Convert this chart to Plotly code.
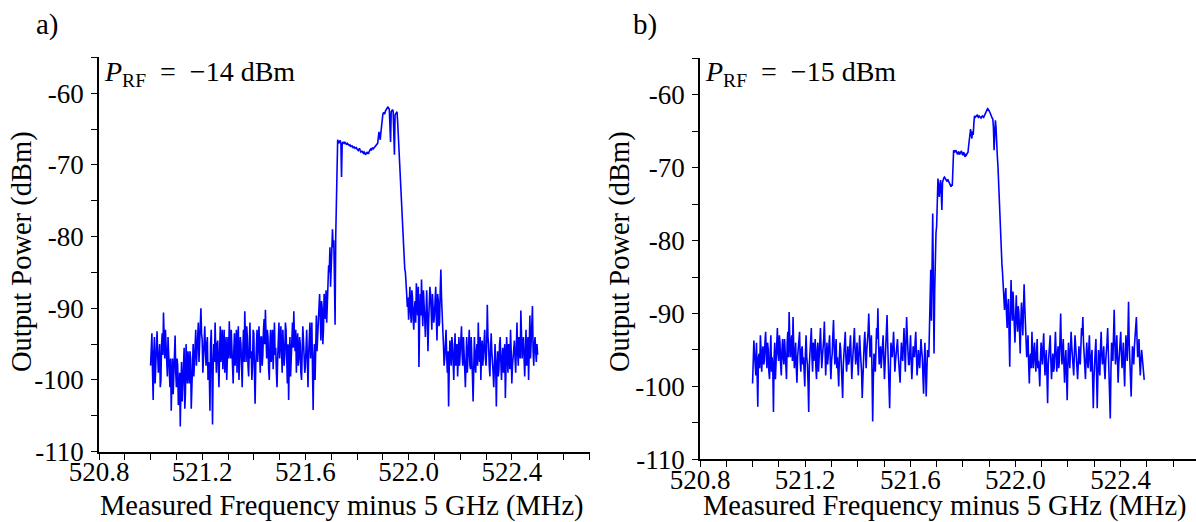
import numpy as np
import plotly.graph_objects as go

# ---------------- data ----------------
# Panel a: P_RF = -14 dBm ; readings every 0.005 MHz from 521.000 to 522.500
power_a = [
    -98, -93.5, -102.8, -94, -97, -93.2, -99, -95, -100, -93.5,
    -90.6, -97, -95, -99.5, -96, -101, -104.3, -97, -99, -93.8,
    -101, -98, -102.5, -106.5, -97.5, -100, -95.5, -102, -98, -96,
    -100.5, -97, -102, -95, -97.5, -93, -96, -92, -95.5, -90,
    -94.5, -96, -92.5, -98, -94, -97.5, -104.3, -93, -106.2, -95,
    -92, -99, -94.5, -101, -92.5, -96, -98.5, -93, -97, -100,
    -94, -91.8, -97, -95, -100.5, -93.5, -96.5, -99, -92.5, -97,
    -95, -101, -93, -90.4, -97.5, -94, -99.5, -92, -96, -98,
    -93.5, -103.3, -95, -97.5, -92.5, -99, -94, -96.5, -91.5, -90.2,
    -97, -94, -100, -93, -96, -98.5, -92, -95.5, -101, -94,
    -97, -92.5, -99, -95, -96.5, -93, -100.5, -102.8, -94, -97,
    -92, -90.4, -96, -99, -93.5, -97, -95, -100, -92.5, -96,
    -98, -93, -101, -94.5, -97, -92, -104.2, -95, -93, -96,
    -92, -88, -94.5, -90, -93, -89, -87.5, -90, -84, -81.5,
    -83, -79, -80.5, -92.3, -74, -66.5, -67, -66.6, -71.7, -66.8,
    -67.0, -66.9, -67.2, -67.1, -67.3, -67.4, -67.3, -67.6, -67.5, -67.7,
    -67.8, -68.0, -67.7, -68.2, -68.1, -68.4, -68.3, -68.5, -68.2, -68.4,
    -68.0, -67.9, -67.6, -67.7, -67.4, -67.2, -67.0, -65.4, -66.5, -64.5,
    -63.0, -62.8, -62.5, -62.2, -61.9, -62.2, -66.8, -62.4, -62.5, -68.6,
    -62.8, -62.6, -66, -69.8, -73, -78.1, -81, -84.5, -86, -89.8,
    -91.6, -87, -92, -88.5, -93, -89, -86.5, -91, -98.2, -88,
    -86, -92.5, -89, -94, -87.5, -96, -90, -88, -93, -89.5,
    -91, -87, -94.5, -89, -92, -84.6, -90, -95,
    -97, -93, -99, -103.7, -94.5, -98, -95, -100, -93.5, -97,
    -99.5, -94, -96, -92.5, -98, -95.5, -101, -94, -97, -93,
    -98.5, -96, -103, -94, -99, -95, -92, -97.5, -100, -94.5,
    -96.5, -93, -98, -89.5, -95, -99.5, -93.5, -97, -101, -95,
    -103.7, -96, -98.5, -94, -100, -95.5, -97, -102.5, -94, -99,
    -96, -93, -100.5, -97, -94.5, -99, -92, -98, -95.5, -90.3,
    -97, -94, -99.5, -93, -96.5, -100, -91, -95, -89.7, -98,
    -94, -97.5, -96.5,
]
# Panel a readings half-way between the points above (521.0025, 521.0075, ...)
power_a_mid = [
    -95, -99, -96, -100.5, -95, -96.5, -97, -101, -95, -96.5,
    -94, -93, -97.5, -94, -99.5, -97, -100, -102, -96, -99,
    -97, -103.5, -99, -101, -103, -97, -104, -95, -100.5, -99,
    -96, -104, -98, -99.5, -95, -98, -94, -97.5, -93, -93.5,
    -99, -93.5, -96, -95, -100, -99, -95, -98, -98, -97.5,
    -96, -95, -98, -96, -97.5, -93, -95, -99, -94, -96,
    -97, -95.5, -93, -98.5, -96, -98, -93, -95, -100, -94,
    -98.5, -96, -97.5, -94, -92.5, -98, -95.5, -97, -100, -93,
    -99, -98, -93, -95, -96, -94, -98, -93, -95, -94,
    -93, -98.5, -95, -97.5, -93, -95, -96.5, -99, -97, -92,
    -94.5, -96, -93, -98, -92, -97, -95, -97, -99.5, -93.5,
    -95.5, -94, -93, -95, -98, -94, -99, -96, -94.5, -99,
    -94, -97, -96.5, -92, -95, -98.5, -97, -100, -91, -94,
    -90.5, -91, -89, -95, -88, -91.5, -92, -86, -85, -87,
    -80, -81.5, -86, -80, -70, -66.8, -66.7, -67, -67.2, -66.9,
    -66.8, -67.1, -67.0, -67.3, -67.2, -67.5, -67.4, -67.5, -67.7, -67.6,
    -67.9, -67.8, -68.0, -68.1, -68.3, -68.2, -68.6, -68.3, -68.4, -68.1,
    -67.8, -67.7, -67.8, -67.5, -67.3, -67.1, -66.2, -66.0, -65.5, -63.6,
    -62.7, -62.9, -62.3, -62.0, -62.1, -64.5, -62.6, -62.3, -65, -63,
    -62.7, -64, -67.5, -71.5, -75.5, -79.5, -83, -85, -88, -88.5,
    -88, -90.5, -87.5, -91.5, -90, -92, -89, -87, -92, -91,
    -90, -87.5, -91.5, -88, -91, -92, -87, -91.5, -88, -92,
    -88.5, -91.5, -88, -92.5, -87.5, -88.5, -93, -98,
    -95, -96.5, -96, -98, -96.5, -94, -97.5, -96, -98, -95,
    -96, -98, -94, -96.5, -94, -98.5, -97, -99, -95, -98,
    -94, -99.5, -97, -97.5, -96, -98, -96, -94, -96, -98,
    -95, -97, -95.5, -94, -98, -96, -96, -99, -97, -98,
    -98, -99.5, -95, -97.5, -97, -99, -95, -98, -96.5, -95,
    -98.5, -96, -98, -95, -97, -95.5, -96, -94, -97, -95,
    -95, -97, -96, -98, -94, -96, -97, -93, -96, -95,
    -96, -95,
]

# Panel b: P_RF = -15 dBm ; readings every 0.005 MHz from 521.000 to 522.490
power_b = [
    -99.6, -93.7, -97, -94, -102.8, -95.5, -93, -98, -94.5, -96.5,
    -92.5, -97.5, -95, -99, -93, -96, -103.5, -94, -97, -92,
    -96.5, -94, -98.5, -93.5, -97, -95, -99, -92.5, -89.8, -96,
    -93, -90.5, -97.5, -94, -99.5, -95, -92.5, -98, -94.5, -96,
    -100, -93, -97, -103.5, -95, -92, -98, -96.5, -93.5, -99,
    -94, -96.5, -92, -97.5, -95, -91.1, -98.5, -94, -96, -93,
    -99, -95.5, -90.9, -97, -93.5, -96, -100, -94, -97.5, -101.6,
    -95, -92.5, -98, -94.5, -96.5, -93, -99, -95.5, -92, -97,
    -94, -98.5, -93, -96, -101.6, -95, -92.5, -97.5, -94, -90,
    -96, -93, -104.8, -95.5, -98, -92, -89.3, -97, -94.5, -96.5,
    -93, -99, -95, -90.2, -97.5, -103, -94, -96, -92.5, -98,
    -95, -93.5, -97, -99.5, -94, -96.5, -92, -98, -90.5, -95.5,
    -97, -93, -99, -94.5, -96, -92.5, -98.5, -95, -97.5, -93.5,
    -96, -101, -94, -101.4, -95, -96,
    -87.3, -91, -76.3, -95.5, -81.3, -78, -71.5, -74, -71.7, -75.8,
    -71.6, -71.3, -71.5, -71.9, -71.8, -72.2, -72.6, -72.4, -67.6, -67.9,
    -67.7, -68.2, -67.8, -68.0, -67.7, -68.3, -68.0, -68.5, -68.2, -67.9,
    -66.3, -64.7, -66, -65.5, -62.9, -63.0, -62.8, -63.1, -63.0, -63.2,
    -62.9, -63.1, -62.7, -62.3, -61.9, -62.1, -62.5, -63, -63.3, -67.6,
    -63.5, -67.6, -69.9, -75.4, -79, -83.2, -85.9, -89.5,
    -86.5, -92, -88, -97.3, -85.4, -91, -89, -94, -87.5, -92.5,
    -90, -95.5, -88.5, -93, -86, -91.5, -96,
    -93, -99.6, -95.5, -92.5, -97.5, -94, -98, -93.5, -96.5, -100,
    -94, -97, -92.7, -98.5, -95, -102.3, -96, -93, -99, -95.5,
    -97.5, -92.5, -98, -94.5, -96.5, -90, -97, -93.5, -99.5, -95,
    -101.9, -94, -97.5, -92.5, -96, -98.5, -93, -95.5, -99, -94.5,
    -97, -92, -90.5, -96.5, -99, -94, -97.5, -93, -98, -95,
    -103, -96, -93.5, -103, -95, -98.5, -92.5, -97, -94.5, -99,
    -95.5, -92, -98, -104.4, -94, -96.5, -89.5, -97, -93, -99.5,
    -95, -92.5, -97.5, -94, -100, -93, -96.5, -88.4, -98, -101.4,
    -94.5, -97, -92.5, -90.5, -96, -93.5, -98.5, -95, -97, -99.1,
]
# Panel b readings half-way between the points above
power_b_mid = [
    -96, -95.5, -98.5, -97, -96, -97.5, -95, -95.5, -97, -94,
    -95.5, -94, -98, -95.5, -98, -97.5, -96, -99, -94.5, -95.5,
    -93, -97, -95, -96, -93.5, -97.5, -94, -96, -93.5, -94,
    -96.5, -94.5, -96, -97.5, -96, -93, -96.5, -95, -97, -98,
    -95.5, -96, -99.5, -97, -93.5, -96, -94, -95, -97.5, -95,
    -98, -94, -95, -96, -93.5, -95, -96, -97, -94.5, -96.5,
    -96.5, -93, -94.5, -95.5, -97.5, -98, -96, -95, -98.5, -97,
    -94, -96, -96.5, -97, -94.5, -96, -97, -94, -95, -95.5,
    -96.5, -95.5, -95, -98, -98, -94, -95.5, -95, -92.5, -94,
    -94.5, -98, -99, -96.5, -95, -93.5, -94, -95.5, -97.5, -94.5,
    -96, -97, -93, -94, -99.5, -98, -95, -94.5, -95, -96.5,
    -94, -95.5, -98, -96.5, -95.5, -94.5, -95, -94, -93, -97,
    -95, -96.5, -97, -95.5, -94, -95.5, -97, -96.5, -95.5, -95,
    -98.5, -97, -97.5, -98, -95.5, -92,
    -84, -84, -86, -87, -79, -74, -72.5, -72.5, -73.5, -72,
    -71.4, -71.5, -71.7, -71.6, -72.0, -72.3, -72.4, -70, -67.8, -67.6,
    -68.0, -67.9, -68.2, -67.7, -68.1, -67.9, -68.4, -68.1, -68.0, -67.0,
    -65.2, -65.5, -65, -64, -63.1, -62.9, -63.0, -62.9, -63.1, -63.0,
    -63.0, -62.9, -62.5, -62.0, -62.0, -62.3, -62.8, -63.2, -64.5, -64,
    -64.5, -68.5, -72.5, -77, -81, -84.5, -88, -87.5,
    -90, -89, -93, -90, -89, -87, -92, -90.5, -91, -89,
    -92.5, -91, -90.5, -89.5, -89, -93.5, -94.5,
    -97, -96, -97.5, -95.5, -95, -96.5, -95.5, -97.5, -98, -96.5,
    -95.5, -94.5, -96, -96.5, -98.5, -97, -94.5, -96.5, -97, -98,
    -95, -95.5, -96, -97.5, -93.5, -94.5, -95, -97, -96.5, -98.5,
    -97, -96, -95, -94.5, -97.5, -95.5, -94.5, -97.5, -96, -96.5,
    -94.5, -93, -94, -98, -96, -96.5, -95, -96.5, -96, -99,
    -99, -95, -98, -98.5, -97, -95, -95.5, -96, -97.5, -96.5,
    -94, -95.5, -100, -98, -95.5, -93, -94, -95.5, -96, -97,
    -94, -95.5, -96, -97.5, -96, -95, -93, -94, -99, -97.5,
    -95.5, -94.5, -92, -93.5, -95, -96.5, -96.5, -96, -97,
]

freq_start, freq_stop_a, freq_stop_b = 521.0, 522.5, 522.49


def interleave(main, mid):
    out = []
    for k, v in enumerate(main):
        out.append(v)
        if k < len(mid):
            out.append(mid[k])
    return out


trace_a = interleave(power_a, power_a_mid)
trace_b = interleave(power_b, power_b_mid)
freq_a = np.linspace(freq_start, freq_stop_a, len(trace_a))
freq_b = np.linspace(freq_start, freq_stop_b, len(trace_b))

x_tick_vals = [520.8, 521.2, 521.6, 522.0, 522.4]
x_tick_text = ["520.8", "521.2", "521.6", "522.0", "522.4"]
x_minor_vals = [round(520.8 + 0.1 * k, 1) for k in range(0, 20)]
y_tick_vals = [-110, -100, -90, -80, -70, -60]
y_tick_text = ["-110", "-100", "-90", "-80", "-70", "-60"]
y_minor_vals = [-105, -95, -85, -75, -65, -55]

panel_labels = ["a)", "b)"]
NB = "\u00a0"
power_labels = [f"<i>P</i><sub>RF</sub>{NB}{NB}={NB}{NB}\u221214 dBm",
                f"<i>P</i><sub>RF</sub>{NB}{NB}={NB}{NB}\u221215 dBm"]
x_title = "Measured Frequency minus 5 GHz (MHz)"
y_title = "Output Power (dBm)"

# ---------------- layout ----------------
W, H = 1196, 522
FONT = "Liberation Serif"
TICK_SIZE = 27
TITLE_SIZE = 28.5


def px(x):
    return x / W


def py(y):
    return 1 - y / H


fig = go.Figure()
fig.add_trace(go.Scatter(x=freq_a, y=trace_a, mode="lines",
                         line=dict(color="#0000ff", width=1.6),
                         xaxis="x", yaxis="y", showlegend=False))
fig.add_trace(go.Scatter(x=freq_b, y=trace_b, mode="lines",
                         line=dict(color="#0000ff", width=1.6),
                         xaxis="x2", yaxis="y2", showlegend=False))

panels = [
    dict(x0=99, x1=590, ytop=57.3, ybot=451.7, xmax=522.703),
    dict(x0=700, x1=1196, ytop=58.3, ybot=459.3, xmax=522.687),
]

common_x = dict(
    tickmode="array", tickvals=x_tick_vals, ticktext=x_tick_text,
    ticks="outside", ticklen=6, tickwidth=1.3, tickcolor="black",
    showline=True, linecolor="black", linewidth=1.8,
    showgrid=False, zeroline=False, automargin=False,
    tickfont=dict(family=FONT, size=TICK_SIZE, color="black"),
    ticklabelstandoff=-11,
    minor=dict(tickmode="array", tickvals=x_minor_vals, ticks="outside",
               ticklen=6, tickwidth=1.3, tickcolor="black", showgrid=False),
)
common_y = dict(
    tickmode="array", tickvals=y_tick_vals, ticktext=y_tick_text,
    ticks="outside", ticklen=6, tickwidth=1.3, tickcolor="black",
    showline=True, linecolor="black", linewidth=1.8,
    showgrid=False, zeroline=False, range=[-110, -55], automargin=False,
    tickfont=dict(family=FONT, size=TICK_SIZE, color="black"),
    ticklabelstandoff=2,
    minor=dict(tickmode="array", tickvals=y_minor_vals, ticks="outside",
               ticklen=6, tickwidth=1.3, tickcolor="black", showgrid=False),
)

annotations = []
for k, p in enumerate(panels):
    sx = "" if k == 0 else "2"
    fig.layout["xaxis" + sx] = dict(common_x, domain=[px(p["x0"]), px(p["x1"])],
                                   range=[520.8, p["xmax"]],
                                   anchor="y" + sx)
    fig.layout["yaxis" + sx] = dict(common_y, domain=[py(p["ybot"]), py(p["ytop"])],
                                   anchor="x" + sx)
    off = 0 if k == 0 else 598
    annotations.append(dict(text=panel_labels[k], x=px(47 + off), y=py(25),
                            xref="paper", yref="paper", showarrow=False,
                            xanchor="center", yanchor="middle",
                            font=dict(family=FONT, size=29, color="black")))
    annotations.append(dict(text=power_labels[k], x=px(p["x0"] + 3), y=py(74),
                            xref="paper", yref="paper", showarrow=False,
                            xanchor="left", yanchor="middle",
                            font=dict(family=FONT, size=28, color="black")))
    annotations.append(dict(text=x_title, x=px((p["x0"] + p["x1"]) / 2 - 3), y=py(506),
                            xref="paper", yref="paper", showarrow=False,
                            xanchor="center", yanchor="middle",
                            font=dict(family=FONT, size=TITLE_SIZE, color="black")))
    annotations.append(dict(text=y_title, x=px(22 + off), y=py(252),
                            xref="paper", yref="paper", showarrow=False,
                            textangle=-90, xanchor="center", yanchor="middle",
                            font=dict(family=FONT, size=TITLE_SIZE, color="black")))

fig.update_layout(
    template="none",
    width=W, height=H,
    margin=dict(l=0, r=0, t=0, b=0, autoexpand=False),
    paper_bgcolor="white", plot_bgcolor="white",
    annotations=annotations,
    font=dict(family=FONT, color="black"),
)

fig.write_html("out.html")
